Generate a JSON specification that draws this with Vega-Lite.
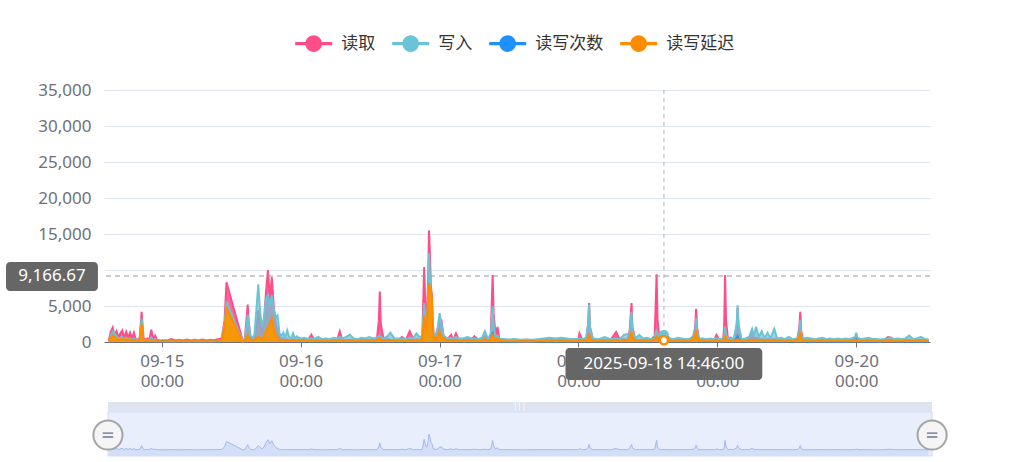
{
"$schema":"https://vega.github.io/schema/vega-lite/v6.json",
"width":826,"height":252,
"autosize":"none",
"padding":{"left":104,"top":90,"right":103,"bottom":120},
"config":{"view":{"stroke":null},"font":"Noto Sans","text":{"font":"Noto Sans"}},
"datasets":{"d":[
{"t":"2025-09-14 14:50","r":200,"w":100,"n":80,"d":100,"g":"a"},
{"t":"2025-09-14 15:10","r":1400,"w":900,"n":300,"d":600,"g":"a"},
{"t":"2025-09-14 15:30","r":2000,"w":1500,"n":400,"d":900,"g":"a"},
{"t":"2025-09-14 15:50","r":900,"w":1200,"n":300,"d":700,"g":"a"},
{"t":"2025-09-14 16:10","r":1500,"w":800,"n":300,"d":500,"g":"a"},
{"t":"2025-09-14 16:30","r":600,"w":500,"n":200,"d":300,"g":"a"},
{"t":"2025-09-14 16:50","r":1200,"w":600,"n":200,"d":400,"g":"a"},
{"t":"2025-09-14 17:10","r":1600,"w":700,"n":300,"d":500,"g":"a"},
{"t":"2025-09-14 17:30","r":500,"w":400,"n":200,"d":300,"g":"a"},
{"t":"2025-09-14 17:50","r":1400,"w":600,"n":200,"d":400,"g":"a"},
{"t":"2025-09-14 18:10","r":600,"w":400,"n":200,"d":300,"g":"a"},
{"t":"2025-09-14 18:30","r":1300,"w":500,"n":200,"d":400,"g":"a"},
{"t":"2025-09-14 18:50","r":500,"w":300,"n":100,"d":200,"g":"a"},
{"t":"2025-09-14 19:10","r":1300,"w":500,"n":200,"d":300,"g":"a"},
{"t":"2025-09-14 19:30","r":300,"w":300,"n":100,"d":200,"g":"a"},
{"t":"2025-09-14 19:50","r":400,"w":300,"n":100,"d":200,"g":"a"},
{"t":"2025-09-14 20:10","r":500,"w":400,"n":100,"d":200,"g":"a"},
{"t":"2025-09-14 20:30","r":4200,"w":3300,"n":1500,"d":2600,"g":"a"},
{"t":"2025-09-14 20:50","r":500,"w":300,"n":200,"d":300,"g":"a"},
{"t":"2025-09-14 21:10","r":300,"w":200,"n":100,"d":150,"g":"a"},
{"t":"2025-09-14 21:30","r":500,"w":300,"n":100,"d":150,"g":"a"},
{"t":"2025-09-14 21:50","r":300,"w":200,"n":100,"d":150,"g":"a"},
{"t":"2025-09-14 22:10","r":1700,"w":600,"n":200,"d":300,"g":"a"},
{"t":"2025-09-14 22:30","r":400,"w":300,"n":100,"d":150,"g":"a"},
{"t":"2025-09-14 22:50","r":900,"w":400,"n":100,"d":200,"g":"a"},
{"t":"2025-09-14 23:10","r":300,"w":200,"n":100,"d":150,"g":"a"},
{"t":"2025-09-14 23:40","r":200,"w":150,"n":100,"d":100,"g":"a"},
{"t":"2025-09-15 00:20","r":250,"w":150,"n":80,"d":120,"g":"a"},
{"t":"2025-09-15 01:00","r":200,"w":150,"n":80,"d":120,"g":"a"},
{"t":"2025-09-15 01:40","r":400,"w":200,"n":80,"d":150,"g":"a"},
{"t":"2025-09-15 02:20","r":200,"w":150,"n":80,"d":120,"g":"a"},
{"t":"2025-09-15 03:00","r":300,"w":200,"n":80,"d":150,"g":"a"},
{"t":"2025-09-15 03:40","r":200,"w":150,"n":80,"d":120,"g":"a"},
{"t":"2025-09-15 04:20","r":350,"w":200,"n":80,"d":150,"g":"a"},
{"t":"2025-09-15 05:00","r":200,"w":150,"n":80,"d":120,"g":"a"},
{"t":"2025-09-15 05:40","r":300,"w":200,"n":80,"d":150,"g":"a"},
{"t":"2025-09-15 06:20","r":200,"w":150,"n":80,"d":120,"g":"a"},
{"t":"2025-09-15 07:00","r":350,"w":200,"n":80,"d":150,"g":"a"},
{"t":"2025-09-15 07:40","r":200,"w":150,"n":80,"d":120,"g":"a"},
{"t":"2025-09-15 08:20","r":300,"w":200,"n":80,"d":150,"g":"a"},
{"t":"2025-09-15 09:00","r":250,"w":150,"n":80,"d":120,"g":"a"},
{"t":"2025-09-15 09:40","r":400,"w":200,"n":100,"d":150,"g":"a"},
{"t":"2025-09-15 10:20","r":500,"w":300,"n":100,"d":200,"g":"a"},
{"t":"2025-09-15 10:50","r":3000,"w":2500,"n":1200,"d":2000,"g":"a"},
{"t":"2025-09-15 11:10","r":8300,"w":5600,"n":2600,"d":4700,"g":"a"},
{"t":"2025-09-15 14:00","r":100,"w":100,"n":50,"d":50,"g":"b"},
{"t":"2025-09-15 14:20","r":400,"w":300,"n":100,"d":200,"g":"b"},
{"t":"2025-09-15 14:40","r":3500,"w":2500,"n":600,"d":800,"g":"b"},
{"t":"2025-09-15 14:50","r":5200,"w":3800,"n":800,"d":1000,"g":"b"},
{"t":"2025-09-15 15:00","r":3000,"w":2500,"n":500,"d":600,"g":"b"},
{"t":"2025-09-15 15:20","r":500,"w":800,"n":200,"d":300,"g":"b"},
{"t":"2025-09-15 15:40","r":300,"w":600,"n":150,"d":200,"g":"b"},
{"t":"2025-09-15 16:00","r":400,"w":1000,"n":200,"d":300,"g":"b"},
{"t":"2025-09-15 16:20","r":2000,"w":4500,"n":400,"d":500,"g":"b"},
{"t":"2025-09-15 16:40","r":4400,"w":8000,"n":600,"d":800,"g":"b"},
{"t":"2025-09-15 17:00","r":2500,"w":4000,"n":500,"d":600,"g":"b"},
{"t":"2025-09-15 17:20","r":1000,"w":2000,"n":300,"d":400,"g":"b"},
{"t":"2025-09-15 17:40","r":3000,"w":3500,"n":600,"d":800,"g":"b"},
{"t":"2025-09-15 18:00","r":7000,"w":6000,"n":1200,"d":1500,"g":"b"},
{"t":"2025-09-15 18:20","r":10000,"w":6500,"n":1800,"d":2000,"g":"b"},
{"t":"2025-09-15 18:40","r":6000,"w":5000,"n":1500,"d":2500,"g":"b"},
{"t":"2025-09-15 19:00","r":9000,"w":6500,"n":2500,"d":3300,"g":"b"},
{"t":"2025-09-15 19:20","r":5000,"w":4500,"n":1500,"d":2000,"g":"b"},
{"t":"2025-09-15 19:40","r":2500,"w":3500,"n":800,"d":1000,"g":"b"},
{"t":"2025-09-15 20:00","r":1500,"w":3700,"n":500,"d":600,"g":"b"},
{"t":"2025-09-15 20:20","r":600,"w":1200,"n":200,"d":300,"g":"b"},
{"t":"2025-09-15 20:40","r":400,"w":800,"n":150,"d":200,"g":"b"},
{"t":"2025-09-15 21:00","r":500,"w":1300,"n":200,"d":300,"g":"b"},
{"t":"2025-09-15 21:20","r":300,"w":600,"n":100,"d":200,"g":"b"},
{"t":"2025-09-15 21:40","r":400,"w":1600,"n":200,"d":300,"g":"b"},
{"t":"2025-09-15 22:00","r":300,"w":700,"n":100,"d":200,"g":"b"},
{"t":"2025-09-15 22:20","r":300,"w":500,"n":100,"d":200,"g":"b"},
{"t":"2025-09-15 22:40","r":400,"w":1200,"n":200,"d":300,"g":"b"},
{"t":"2025-09-15 23:00","r":300,"w":500,"n":100,"d":200,"g":"b"},
{"t":"2025-09-15 23:20","r":300,"w":800,"n":100,"d":200,"g":"b"},
{"t":"2025-09-15 23:40","r":400,"w":600,"n":100,"d":200,"g":"b"},
{"t":"2025-09-16 00:00","r":300,"w":500,"n":100,"d":200,"g":"b"},
{"t":"2025-09-16 00:40","r":400,"w":600,"n":100,"d":200,"g":"b"},
{"t":"2025-09-16 01:20","r":300,"w":400,"n":100,"d":150,"g":"b"},
{"t":"2025-09-16 01:50","r":1000,"w":500,"n":150,"d":250,"g":"b"},
{"t":"2025-09-16 02:20","r":300,"w":400,"n":100,"d":150,"g":"b"},
{"t":"2025-09-16 03:00","r":300,"w":700,"n":100,"d":200,"g":"b"},
{"t":"2025-09-16 03:40","r":200,"w":400,"n":100,"d":150,"g":"b"},
{"t":"2025-09-16 04:20","r":300,"w":500,"n":100,"d":150,"g":"b"},
{"t":"2025-09-16 05:00","r":250,"w":400,"n":100,"d":150,"g":"b"},
{"t":"2025-09-16 05:40","r":300,"w":600,"n":100,"d":200,"g":"b"},
{"t":"2025-09-16 06:20","r":400,"w":500,"n":100,"d":150,"g":"b"},
{"t":"2025-09-16 06:45","r":1500,"w":700,"n":200,"d":300,"g":"b"},
{"t":"2025-09-16 07:10","r":300,"w":500,"n":100,"d":150,"g":"b"},
{"t":"2025-09-16 07:50","r":250,"w":700,"n":100,"d":200,"g":"b"},
{"t":"2025-09-16 08:30","r":300,"w":1000,"n":150,"d":250,"g":"b"},
{"t":"2025-09-16 09:10","r":300,"w":500,"n":100,"d":150,"g":"b"},
{"t":"2025-09-16 09:50","r":200,"w":400,"n":100,"d":150,"g":"b"},
{"t":"2025-09-16 10:30","r":300,"w":600,"n":100,"d":200,"g":"b"},
{"t":"2025-09-16 11:10","r":300,"w":500,"n":100,"d":150,"g":"b"},
{"t":"2025-09-16 11:50","r":250,"w":700,"n":100,"d":200,"g":"b"},
{"t":"2025-09-16 12:30","r":300,"w":500,"n":100,"d":150,"g":"b"},
{"t":"2025-09-16 13:10","r":400,"w":600,"n":100,"d":200,"g":"b"},
{"t":"2025-09-16 13:30","r":3000,"w":800,"n":300,"d":400,"g":"b"},
{"t":"2025-09-16 13:40","r":7000,"w":900,"n":400,"d":500,"g":"b"},
{"t":"2025-09-16 13:50","r":2500,"w":700,"n":300,"d":300,"g":"b"},
{"t":"2025-09-16 14:20","r":300,"w":500,"n":100,"d":150,"g":"b"},
{"t":"2025-09-16 15:00","r":400,"w":800,"n":100,"d":200,"g":"b"},
{"t":"2025-09-16 15:30","r":300,"w":1300,"n":150,"d":250,"g":"b"},
{"t":"2025-09-16 16:10","r":300,"w":500,"n":100,"d":150,"g":"b"},
{"t":"2025-09-16 16:50","r":250,"w":500,"n":100,"d":150,"g":"b"},
{"t":"2025-09-16 17:30","r":700,"w":500,"n":100,"d":200,"g":"b"},
{"t":"2025-09-16 18:10","r":300,"w":400,"n":100,"d":150,"g":"b"},
{"t":"2025-09-16 18:50","r":1500,"w":600,"n":200,"d":300,"g":"b"},
{"t":"2025-09-16 19:30","r":300,"w":600,"n":100,"d":150,"g":"b"},
{"t":"2025-09-16 20:00","r":400,"w":1200,"n":150,"d":250,"g":"b"},
{"t":"2025-09-16 20:30","r":300,"w":700,"n":100,"d":200,"g":"b"},
{"t":"2025-09-16 21:00","r":500,"w":800,"n":300,"d":500,"g":"b"},
{"t":"2025-09-16 21:20","r":10400,"w":5400,"n":2000,"d":3700,"g":"b"},
{"t":"2025-09-16 21:30","r":6000,"w":4000,"n":1500,"d":2500,"g":"b"},
{"t":"2025-09-16 21:40","r":3000,"w":2000,"n":800,"d":1500,"g":"b"},
{"t":"2025-09-16 21:50","r":3500,"w":2500,"n":1500,"d":3000,"g":"b"},
{"t":"2025-09-16 22:00","r":8000,"w":6000,"n":3000,"d":5500,"g":"b"},
{"t":"2025-09-16 22:10","r":15500,"w":12300,"n":5000,"d":8200,"g":"b"},
{"t":"2025-09-16 22:20","r":12000,"w":9000,"n":4000,"d":7500,"g":"b"},
{"t":"2025-09-16 22:30","r":7600,"w":6000,"n":3500,"d":7200,"g":"b"},
{"t":"2025-09-16 22:40","r":6500,"w":5000,"n":3000,"d":6000,"g":"b"},
{"t":"2025-09-16 22:50","r":2500,"w":2000,"n":1000,"d":1500,"g":"b"},
{"t":"2025-09-16 23:00","r":800,"w":700,"n":300,"d":500,"g":"b"},
{"t":"2025-09-16 23:20","r":500,"w":1000,"n":200,"d":400,"g":"b"},
{"t":"2025-09-16 23:40","r":1000,"w":2000,"n":400,"d":800,"g":"b"},
{"t":"2025-09-17 00:00","r":3000,"w":4000,"n":800,"d":1500,"g":"b"},
{"t":"2025-09-17 00:20","r":3000,"w":2500,"n":500,"d":800,"g":"b"},
{"t":"2025-09-17 00:40","r":800,"w":900,"n":300,"d":500,"g":"b"},
{"t":"2025-09-17 01:20","r":400,"w":500,"n":100,"d":200,"g":"b"},
{"t":"2025-09-17 02:00","r":1000,"w":600,"n":200,"d":300,"g":"b"},
{"t":"2025-09-17 02:20","r":300,"w":500,"n":100,"d":150,"g":"b"},
{"t":"2025-09-17 02:50","r":1200,"w":700,"n":200,"d":300,"g":"b"},
{"t":"2025-09-17 03:20","r":300,"w":500,"n":100,"d":150,"g":"b"},
{"t":"2025-09-17 04:00","r":300,"w":500,"n":100,"d":150,"g":"b"},
{"t":"2025-09-17 04:50","r":400,"w":700,"n":100,"d":200,"g":"b"},
{"t":"2025-09-17 05:30","r":300,"w":500,"n":100,"d":150,"g":"b"},
{"t":"2025-09-17 06:00","r":800,"w":500,"n":150,"d":250,"g":"b"},
{"t":"2025-09-17 06:40","r":300,"w":400,"n":100,"d":150,"g":"b"},
{"t":"2025-09-17 07:20","r":400,"w":600,"n":100,"d":200,"g":"b"},
{"t":"2025-09-17 07:50","r":800,"w":1500,"n":300,"d":400,"g":"b"},
{"t":"2025-09-17 08:20","r":300,"w":500,"n":100,"d":150,"g":"b"},
{"t":"2025-09-17 08:50","r":1000,"w":800,"n":200,"d":300,"g":"b"},
{"t":"2025-09-17 09:00","r":5000,"w":3000,"n":1000,"d":800,"g":"b"},
{"t":"2025-09-17 09:10","r":9300,"w":5000,"n":1200,"d":1000,"g":"b"},
{"t":"2025-09-17 09:20","r":4000,"w":2500,"n":600,"d":600,"g":"b"},
{"t":"2025-09-17 09:40","r":1000,"w":600,"n":200,"d":300,"g":"b"},
{"t":"2025-09-17 10:00","r":2100,"w":900,"n":300,"d":500,"g":"b"},
{"t":"2025-09-17 10:20","r":400,"w":500,"n":100,"d":200,"g":"b"},
{"t":"2025-09-17 11:00","r":300,"w":400,"n":100,"d":150,"g":"b"},
{"t":"2025-09-17 12:00","r":250,"w":350,"n":80,"d":150,"g":"b"},
{"t":"2025-09-17 13:00","r":300,"w":400,"n":100,"d":150,"g":"b"},
{"t":"2025-09-17 14:00","r":200,"w":300,"n":80,"d":120,"g":"b"},
{"t":"2025-09-17 15:00","r":300,"w":350,"n":100,"d":150,"g":"b"},
{"t":"2025-09-17 16:00","r":250,"w":300,"n":80,"d":120,"g":"b"},
{"t":"2025-09-17 17:00","r":300,"w":400,"n":100,"d":150,"g":"b"},
{"t":"2025-09-17 18:00","r":300,"w":500,"n":100,"d":150,"g":"b"},
{"t":"2025-09-17 19:00","r":300,"w":600,"n":100,"d":150,"g":"b"},
{"t":"2025-09-17 20:00","r":250,"w":500,"n":80,"d":150,"g":"b"},
{"t":"2025-09-17 21:00","r":300,"w":600,"n":100,"d":150,"g":"b"},
{"t":"2025-09-17 22:00","r":350,"w":500,"n":100,"d":150,"g":"b"},
{"t":"2025-09-17 23:00","r":300,"w":400,"n":100,"d":150,"g":"b"},
{"t":"2025-09-18 00:00","r":300,"w":400,"n":100,"d":150,"g":"b"},
{"t":"2025-09-18 00:10","r":1200,"w":500,"n":200,"d":300,"g":"b"},
{"t":"2025-09-18 00:40","r":300,"w":400,"n":100,"d":150,"g":"b"},
{"t":"2025-09-18 01:20","r":400,"w":600,"n":100,"d":200,"g":"b"},
{"t":"2025-09-18 01:40","r":2500,"w":2500,"n":500,"d":600,"g":"b"},
{"t":"2025-09-18 01:50","r":5400,"w":5200,"n":800,"d":1200,"g":"b"},
{"t":"2025-09-18 02:00","r":2000,"w":2000,"n":400,"d":500,"g":"b"},
{"t":"2025-09-18 02:30","r":300,"w":500,"n":100,"d":150,"g":"b"},
{"t":"2025-09-18 03:30","r":300,"w":400,"n":100,"d":150,"g":"b"},
{"t":"2025-09-18 04:30","r":300,"w":700,"n":100,"d":200,"g":"b"},
{"t":"2025-09-18 05:30","r":250,"w":400,"n":80,"d":150,"g":"b"},
{"t":"2025-09-18 06:30","r":1400,"w":500,"n":200,"d":300,"g":"b"},
{"t":"2025-09-18 07:10","r":300,"w":400,"n":100,"d":150,"g":"b"},
{"t":"2025-09-18 07:50","r":400,"w":1000,"n":150,"d":250,"g":"b"},
{"t":"2025-09-18 08:30","r":300,"w":1100,"n":150,"d":250,"g":"b"},
{"t":"2025-09-18 08:50","r":1500,"w":1200,"n":300,"d":500,"g":"b"},
{"t":"2025-09-18 09:10","r":5400,"w":4200,"n":800,"d":1400,"g":"b"},
{"t":"2025-09-18 09:20","r":2000,"w":1500,"n":400,"d":600,"g":"b"},
{"t":"2025-09-18 09:50","r":300,"w":500,"n":100,"d":150,"g":"b"},
{"t":"2025-09-18 10:30","r":300,"w":1000,"n":150,"d":250,"g":"b"},
{"t":"2025-09-18 11:10","r":300,"w":500,"n":100,"d":150,"g":"b"},
{"t":"2025-09-18 11:50","r":400,"w":600,"n":100,"d":200,"g":"b"},
{"t":"2025-09-18 12:30","r":300,"w":400,"n":100,"d":150,"g":"b"},
{"t":"2025-09-18 13:10","r":800,"w":500,"n":200,"d":300,"g":"b"},
{"t":"2025-09-18 13:20","r":5000,"w":1200,"n":400,"d":600,"g":"b"},
{"t":"2025-09-18 13:30","r":9400,"w":1700,"n":500,"d":800,"g":"b"},
{"t":"2025-09-18 13:40","r":3000,"w":1000,"n":300,"d":400,"g":"b"},
{"t":"2025-09-18 14:00","r":300,"w":1100,"n":150,"d":200,"g":"b"},
{"t":"2025-09-18 14:20","r":300,"w":1200,"n":150,"d":200,"g":"b"},
{"t":"2025-09-18 14:46","r":600,"w":1000,"n":500,"d":250,"g":"b"},
{"t":"2025-09-18 15:10","r":300,"w":900,"n":150,"d":200,"g":"b"},
{"t":"2025-09-18 15:50","r":250,"w":500,"n":100,"d":150,"g":"b"},
{"t":"2025-09-18 16:30","r":300,"w":400,"n":100,"d":150,"g":"b"},
{"t":"2025-09-18 17:10","r":300,"w":600,"n":100,"d":150,"g":"b"},
{"t":"2025-09-18 17:50","r":300,"w":500,"n":100,"d":150,"g":"b"},
{"t":"2025-09-18 18:30","r":350,"w":400,"n":100,"d":150,"g":"b"},
{"t":"2025-09-18 19:10","r":300,"w":400,"n":100,"d":150,"g":"b"},
{"t":"2025-09-18 19:50","r":800,"w":700,"n":300,"d":500,"g":"b"},
{"t":"2025-09-18 20:10","r":2000,"w":1500,"n":500,"d":900,"g":"b"},
{"t":"2025-09-18 20:20","r":4600,"w":3300,"n":900,"d":1700,"g":"b"},
{"t":"2025-09-18 20:30","r":2000,"w":1500,"n":500,"d":800,"g":"b"},
{"t":"2025-09-18 20:50","r":400,"w":500,"n":100,"d":200,"g":"b"},
{"t":"2025-09-18 21:30","r":300,"w":500,"n":100,"d":150,"g":"b"},
{"t":"2025-09-18 22:10","r":300,"w":400,"n":100,"d":150,"g":"b"},
{"t":"2025-09-18 22:50","r":300,"w":500,"n":100,"d":150,"g":"b"},
{"t":"2025-09-18 23:30","r":300,"w":400,"n":100,"d":150,"g":"b"},
{"t":"2025-09-18 23:50","r":1000,"w":500,"n":200,"d":300,"g":"b"},
{"t":"2025-09-19 00:20","r":300,"w":400,"n":100,"d":150,"g":"b"},
{"t":"2025-09-19 01:00","r":400,"w":500,"n":100,"d":200,"g":"b"},
{"t":"2025-09-19 01:10","r":2000,"w":1000,"n":300,"d":500,"g":"b"},
{"t":"2025-09-19 01:20","r":9300,"w":2100,"n":600,"d":1000,"g":"b"},
{"t":"2025-09-19 01:30","r":3000,"w":1000,"n":300,"d":400,"g":"b"},
{"t":"2025-09-19 01:50","r":400,"w":500,"n":100,"d":150,"g":"b"},
{"t":"2025-09-19 02:20","r":600,"w":500,"n":100,"d":200,"g":"b"},
{"t":"2025-09-19 02:50","r":300,"w":400,"n":100,"d":150,"g":"b"},
{"t":"2025-09-19 03:20","r":2000,"w":2500,"n":500,"d":300,"g":"b"},
{"t":"2025-09-19 03:30","r":4700,"w":5100,"n":800,"d":400,"g":"b"},
{"t":"2025-09-19 03:40","r":2000,"w":2500,"n":400,"d":300,"g":"b"},
{"t":"2025-09-19 04:10","r":300,"w":400,"n":100,"d":150,"g":"b"},
{"t":"2025-09-19 04:50","r":300,"w":500,"n":100,"d":150,"g":"b"},
{"t":"2025-09-19 05:30","r":400,"w":700,"n":100,"d":200,"g":"b"},
{"t":"2025-09-19 06:00","r":1600,"w":1800,"n":300,"d":300,"g":"b"},
{"t":"2025-09-19 06:20","r":500,"w":800,"n":100,"d":200,"g":"b"},
{"t":"2025-09-19 06:40","r":600,"w":2100,"n":200,"d":300,"g":"b"},
{"t":"2025-09-19 07:10","r":400,"w":700,"n":100,"d":200,"g":"b"},
{"t":"2025-09-19 07:40","r":400,"w":1500,"n":100,"d":200,"g":"b"},
{"t":"2025-09-19 08:10","r":300,"w":500,"n":100,"d":150,"g":"b"},
{"t":"2025-09-19 08:40","r":400,"w":1300,"n":100,"d":200,"g":"b"},
{"t":"2025-09-19 09:10","r":300,"w":500,"n":100,"d":150,"g":"b"},
{"t":"2025-09-19 09:50","r":400,"w":1800,"n":150,"d":250,"g":"b"},
{"t":"2025-09-19 10:20","r":300,"w":500,"n":100,"d":150,"g":"b"},
{"t":"2025-09-19 11:00","r":250,"w":600,"n":80,"d":150,"g":"b"},
{"t":"2025-09-19 11:40","r":300,"w":400,"n":100,"d":150,"g":"b"},
{"t":"2025-09-19 12:20","r":300,"w":700,"n":100,"d":150,"g":"b"},
{"t":"2025-09-19 13:00","r":250,"w":400,"n":80,"d":150,"g":"b"},
{"t":"2025-09-19 13:50","r":500,"w":500,"n":200,"d":300,"g":"b"},
{"t":"2025-09-19 14:10","r":2000,"w":1500,"n":500,"d":800,"g":"b"},
{"t":"2025-09-19 14:20","r":4200,"w":3000,"n":800,"d":1400,"g":"b"},
{"t":"2025-09-19 14:30","r":1500,"w":1000,"n":300,"d":500,"g":"b"},
{"t":"2025-09-19 14:50","r":300,"w":500,"n":100,"d":150,"g":"b"},
{"t":"2025-09-19 15:30","r":250,"w":600,"n":80,"d":150,"g":"b"},
{"t":"2025-09-19 16:10","r":300,"w":500,"n":100,"d":150,"g":"b"},
{"t":"2025-09-19 16:50","r":250,"w":400,"n":80,"d":150,"g":"b"},
{"t":"2025-09-19 17:30","r":300,"w":500,"n":100,"d":150,"g":"b"},
{"t":"2025-09-19 18:10","r":300,"w":600,"n":100,"d":150,"g":"b"},
{"t":"2025-09-19 18:50","r":250,"w":400,"n":80,"d":150,"g":"b"},
{"t":"2025-09-19 19:30","r":300,"w":500,"n":100,"d":150,"g":"b"},
{"t":"2025-09-19 20:10","r":250,"w":400,"n":80,"d":150,"g":"b"},
{"t":"2025-09-19 20:50","r":300,"w":500,"n":100,"d":150,"g":"b"},
{"t":"2025-09-19 21:30","r":250,"w":400,"n":80,"d":150,"g":"b"},
{"t":"2025-09-19 22:10","r":300,"w":500,"n":100,"d":150,"g":"b"},
{"t":"2025-09-19 22:50","r":250,"w":400,"n":80,"d":150,"g":"b"},
{"t":"2025-09-19 23:30","r":300,"w":600,"n":100,"d":150,"g":"b"},
{"t":"2025-09-19 23:50","r":500,"w":700,"n":300,"d":300,"g":"b"},
{"t":"2025-09-20 00:00","r":1100,"w":1300,"n":400,"d":300,"g":"b"},
{"t":"2025-09-20 00:10","r":400,"w":600,"n":100,"d":150,"g":"b"},
{"t":"2025-09-20 00:50","r":300,"w":400,"n":100,"d":150,"g":"b"},
{"t":"2025-09-20 01:30","r":250,"w":500,"n":80,"d":150,"g":"b"},
{"t":"2025-09-20 02:10","r":300,"w":600,"n":100,"d":150,"g":"b"},
{"t":"2025-09-20 02:50","r":250,"w":400,"n":80,"d":150,"g":"b"},
{"t":"2025-09-20 03:30","r":300,"w":400,"n":100,"d":150,"g":"b"},
{"t":"2025-09-20 04:10","r":250,"w":350,"n":80,"d":120,"g":"b"},
{"t":"2025-09-20 04:50","r":300,"w":400,"n":100,"d":150,"g":"b"},
{"t":"2025-09-20 05:30","r":700,"w":500,"n":200,"d":200,"g":"b"},
{"t":"2025-09-20 06:00","r":600,"w":600,"n":200,"d":300,"g":"b"},
{"t":"2025-09-20 06:30","r":300,"w":400,"n":100,"d":150,"g":"b"},
{"t":"2025-09-20 07:10","r":300,"w":500,"n":100,"d":150,"g":"b"},
{"t":"2025-09-20 07:50","r":250,"w":400,"n":80,"d":150,"g":"b"},
{"t":"2025-09-20 08:30","r":300,"w":500,"n":100,"d":150,"g":"b"},
{"t":"2025-09-20 09:10","r":300,"w":900,"n":100,"d":200,"g":"b"},
{"t":"2025-09-20 09:50","r":250,"w":400,"n":80,"d":150,"g":"b"},
{"t":"2025-09-20 10:30","r":300,"w":500,"n":100,"d":150,"g":"b"},
{"t":"2025-09-20 11:10","r":250,"w":700,"n":80,"d":150,"g":"b"},
{"t":"2025-09-20 11:50","r":300,"w":400,"n":100,"d":150,"g":"b"},
{"t":"2025-09-20 12:30","r":250,"w":350,"n":80,"d":120,"g":"b"}
]},
"data":{"name":"d"},
"layer":[
{"mark":{"type":"area","color":"#ff4d88","opacity":0.85},"encoding":{
  "x":{"field":"t","type":"temporal","title":null,
   "scale":{"domain":[{"year":2025,"month":9,"date":14,"hours":14,"minutes":0},{"year":2025,"month":9,"date":20,"hours":12,"minutes":45}],"nice":false},
   "axis":{"values":[{"year":2025,"month":9,"date":15},{"year":2025,"month":9,"date":16},{"year":2025,"month":9,"date":17},{"year":2025,"month":9,"date":18},{"year":2025,"month":9,"date":19},{"year":2025,"month":9,"date":20}],
    "labelExpr":"[timeFormat(datum.value,'%m-%d'), timeFormat(datum.value,'%H:%M')]",
    "grid":false,"domainColor":"#6e7079","tickColor":"#6e7079","tickSize":5,"labelColor":"#6e7079","labelFontSize":17,"labelPadding":6,"labelLineHeight":20,"labelFont":"Noto Sans","labelFlush":false,"labelOverlap":false}},
  "y":{"field":"r","type":"quantitative","title":null,"scale":{"domain":[0,35000],"nice":false},
   "axis":{"values":[0,5000,10000,15000,20000,25000,30000,35000],"format":",.0f","domain":false,"ticks":false,"grid":true,"gridColor":"#e0e6f1","labelColor":"#6e7079","labelFontSize":17,"labelPadding":13,"labelFont":"Noto Sans"}},
  "detail":{"field":"g"}}},
{"mark":{"type":"line","strokeWidth":2},"encoding":{"x":{"field":"t","type":"temporal","title":null},"y":{"field":"r","type":"quantitative","title":null,"scale":{"domain":[0,35000],"nice":false},"axis":null},
  "color":{"datum":"读取","type":"nominal","scale":{"domain":["读取","写入","读写次数","读写延迟"],"range":["#ff4d88","#6cc3d5","#1e90ff","#ff8c00"]},
   "legend":{"orient":"none","legendX":191,"legendY":-55,"direction":"horizontal","title":null,
    "symbolType":"M-2.23,-0.2H2.23V0.2H-2.23Z M1,0A1,1 0 1,1 -1,0A1,1 0 1,1 1,0Z","symbolSize":276,"symbolOffset":10.2,"labelOffset":19,
    "labelFontSize":17,"labelColor":"#333333","labelFont":"Noto Sans CJK SC","columnPadding":16,
    "encode":{"symbols":{"update":{"fill":{"scale":"color","field":"value"},"stroke":{"value":"transparent"},"strokeWidth":{"value":0},"opacity":{"value":1}}}}}}}},
{"mark":{"type":"area","color":"#6cc3d5","opacity":0.7},"encoding":{"x":{"field":"t","type":"temporal","title":null},"y":{"field":"w","type":"quantitative","title":null,"scale":{"domain":[0,35000],"nice":false},"axis":null},"detail":{"field":"g"}}},
{"mark":{"type":"line","strokeWidth":2},"encoding":{"x":{"field":"t","type":"temporal","title":null},"y":{"field":"w","type":"quantitative","title":null,"scale":{"domain":[0,35000],"nice":false},"axis":null},"color":{"datum":"写入","type":"nominal"}}},
{"mark":{"type":"area","color":"#1e90ff","opacity":0.7},"encoding":{"x":{"field":"t","type":"temporal","title":null},"y":{"field":"n","type":"quantitative","title":null,"scale":{"domain":[0,35000],"nice":false},"axis":null},"detail":{"field":"g"}}},
{"mark":{"type":"line","strokeWidth":2},"encoding":{"x":{"field":"t","type":"temporal","title":null},"y":{"field":"n","type":"quantitative","title":null,"scale":{"domain":[0,35000],"nice":false},"axis":null},"color":{"datum":"读写次数","type":"nominal"}}},
{"mark":{"type":"area","color":"#ff9800","opacity":0.95},"encoding":{"x":{"field":"t","type":"temporal","title":null},"y":{"field":"d","type":"quantitative","title":null,"scale":{"domain":[0,35000],"nice":false},"axis":null},"detail":{"field":"g"}}},
{"mark":{"type":"line","strokeWidth":2},"encoding":{"x":{"field":"t","type":"temporal","title":null},"y":{"field":"d","type":"quantitative","title":null,"scale":{"domain":[0,35000],"nice":false},"axis":null},"color":{"datum":"读写延迟","type":"nominal"}}},
{"data":{"values":[{}]},"mark":{"type":"rule","color":"#b4b4b4","strokeDash":[4,4],"strokeWidth":1},"encoding":{"x":{"datum":{"year":2025,"month":9,"date":18,"hours":14,"minutes":46},"type":"temporal","title":null}}},
{"data":{"values":[{}]},"mark":{"type":"rule","color":"#999999","strokeDash":[5,4],"strokeWidth":1},"encoding":{"y":{"datum":9166.67,"type":"quantitative","title":null,"scale":{"domain":[0,35000],"nice":false},"axis":null}}},
{"transform":[{"filter":"date(datum.t)==18 && hours(datum.t)==14 && minutes(datum.t)==46"}],"mark":{"type":"point","filled":true,"fill":"#ffffff","stroke":"#1e90ff","strokeWidth":2,"size":50,"opacity":1},"encoding":{"x":{"field":"t","type":"temporal","title":null},"y":{"field":"n","type":"quantitative","title":null,"scale":{"domain":[0,35000],"nice":false},"axis":null}}},
{"transform":[{"filter":"date(datum.t)==18 && hours(datum.t)==14 && minutes(datum.t)==46"}],"mark":{"type":"point","filled":true,"fill":"#ffffff","stroke":"#ff4d88","strokeWidth":2,"size":50,"opacity":1},"encoding":{"x":{"field":"t","type":"temporal","title":null},"y":{"field":"r","type":"quantitative","title":null,"scale":{"domain":[0,35000],"nice":false},"axis":null}}},
{"transform":[{"filter":"date(datum.t)==18 && hours(datum.t)==14 && minutes(datum.t)==46"}],"mark":{"type":"point","filled":true,"fill":"#6cc3d5","stroke":"#6cc3d5","strokeWidth":2,"size":60,"opacity":1},"encoding":{"x":{"field":"t","type":"temporal","title":null},"y":{"field":"w","type":"quantitative","title":null,"scale":{"domain":[0,35000],"nice":false},"axis":null}}},
{"transform":[{"filter":"date(datum.t)==18 && hours(datum.t)==14 && minutes(datum.t)==46"}],"mark":{"type":"point","filled":true,"fill":"#ffffff","stroke":"#ff8c00","strokeWidth":2.5,"size":70,"opacity":1},"encoding":{"x":{"field":"t","type":"temporal","title":null},"y":{"field":"d","type":"quantitative","title":null,"scale":{"domain":[0,35000],"nice":false},"axis":null}}},
{"data":{"values":[{}]},"mark":{"type":"rect","color":"#666666","cornerRadius":4},"encoding":{"x":{"datum":{"year":2025,"month":9,"date":13,"hours":21,"minutes":4},"type":"temporal","title":null},"x2":{"datum":{"year":2025,"month":9,"date":14,"hours":12,"minutes":57}},"y":{"datum":11111,"type":"quantitative","title":null,"scale":{"domain":[0,35000],"nice":false},"axis":null},"y2":{"datum":7083}}},
{"data":{"values":[{}]},"mark":{"type":"text","color":"#ffffff","fontSize":17,"align":"center","baseline":"middle","font":"Noto Sans"},"encoding":{"x":{"datum":{"year":2025,"month":9,"date":14,"hours":5,"minutes":0},"type":"temporal","title":null},"y":{"datum":9166.67,"type":"quantitative","title":null,"scale":{"domain":[0,35000],"nice":false},"axis":null},"text":{"value":"9,166.67"}}},
{"data":{"values":[{}]},"mark":{"type":"rect","color":"#666666","cornerRadius":4},"encoding":{"x":{"datum":{"year":2025,"month":9,"date":17,"hours":21,"minutes":45},"type":"temporal","title":null},"x2":{"datum":{"year":2025,"month":9,"date":19,"hours":7,"minutes":46}},"y":{"datum":-833,"type":"quantitative","title":null,"scale":{"domain":[0,35000],"nice":false},"axis":null},"y2":{"datum":-5278}}},
{"data":{"values":[{}]},"mark":{"type":"text","color":"#ffffff","fontSize":17,"align":"center","baseline":"middle","font":"Noto Sans"},"encoding":{"x":{"datum":{"year":2025,"month":9,"date":18,"hours":14,"minutes":46},"type":"temporal","title":null},"y":{"datum":-3056,"type":"quantitative","title":null,"scale":{"domain":[0,35000],"nice":false},"axis":null},"text":{"value":"2025-09-18 14:46:00"}}},
{"data":{"values":[{}]},"mark":{"type":"rect","fill":"#e8eefc","stroke":"#d3dcef","strokeWidth":1},"encoding":{"x":{"datum":{"year":2025,"month":9,"date":14,"hours":14,"minutes":41},"type":"temporal","title":null},"x2":{"datum":{"year":2025,"month":9,"date":20,"hours":13,"minutes":7}},"y":{"datum":36800,"type":"quantitative","scale":{"domain":[-5800,46500],"range":[366,312],"nice":false,"zero":false},"axis":null},"y2":{"datum":-5800}}},
{"data":{"values":[{}]},"mark":{"type":"rect","fill":"#dde3f0"},"encoding":{"x":{"datum":{"year":2025,"month":9,"date":14,"hours":14,"minutes":41},"type":"temporal","title":null},"x2":{"datum":{"year":2025,"month":9,"date":20,"hours":13,"minutes":7}},"y":{"datum":46500,"type":"quantitative","scale":{"domain":[-5800,46500],"range":[366,312],"nice":false,"zero":false},"axis":null},"y2":{"datum":36800}}},
{"mark":{"type":"area","color":"#d3def8","opacity":1,"line":{"color":"#a3b9ef","strokeWidth":1}},"encoding":{"x":{"field":"t","type":"temporal","title":null},"y":{"field":"r","type":"quantitative","title":null,"scale":{"domain":[-5800,46500],"range":[366,312],"nice":false,"zero":false},"axis":null},"y2":{"datum":-5800}}},
{"data":{"values":[{}]},"mark":{"type":"text","text":"|||","color":"#ffffff","fontSize":8,"align":"center","baseline":"middle"},"encoding":{"x":{"datum":{"year":2025,"month":9,"date":17,"hours":13,"minutes":49},"type":"temporal","title":null},"y":{"datum":41600,"type":"quantitative","scale":{"domain":[-5800,46500],"range":[366,312],"nice":false,"zero":false},"axis":null}}},
{"data":{"values":[{}]},"mark":{"type":"point","shape":"circle","filled":true,"fill":"#f5f5f5","stroke":"#a5a5a5","strokeWidth":2,"size":850,"opacity":1},"encoding":{"x":{"datum":{"year":2025,"month":9,"date":14,"hours":14,"minutes":41},"type":"temporal","title":null},"y":{"datum":14500,"type":"quantitative","scale":{"domain":[-5800,46500],"range":[366,312],"nice":false,"zero":false},"axis":null}}},
{"data":{"values":[{}]},"mark":{"type":"point","shape":"circle","filled":true,"fill":"#f5f5f5","stroke":"#a5a5a5","strokeWidth":2,"size":850,"opacity":1},"encoding":{"x":{"datum":{"year":2025,"month":9,"date":20,"hours":13,"minutes":7},"type":"temporal","title":null},"y":{"datum":14500,"type":"quantitative","scale":{"domain":[-5800,46500],"range":[366,312],"nice":false,"zero":false},"axis":null}}},
{"data":{"values":[{}]},"mark":{"type":"point","shape":"M-1,-0.55H1V-0.2H-1Z M-1,0.2H1V0.55H-1Z","filled":true,"fill":"#8a94a8","strokeWidth":0,"size":110,"opacity":1},"encoding":{"x":{"datum":{"year":2025,"month":9,"date":14,"hours":14,"minutes":41},"type":"temporal","title":null},"y":{"datum":14500,"type":"quantitative","scale":{"domain":[-5800,46500],"range":[366,312],"nice":false,"zero":false},"axis":null}}},
{"data":{"values":[{}]},"mark":{"type":"point","shape":"M-1,-0.55H1V-0.2H-1Z M-1,0.2H1V0.55H-1Z","filled":true,"fill":"#8a94a8","strokeWidth":0,"size":110,"opacity":1},"encoding":{"x":{"datum":{"year":2025,"month":9,"date":20,"hours":13,"minutes":7},"type":"temporal","title":null},"y":{"datum":14500,"type":"quantitative","scale":{"domain":[-5800,46500],"range":[366,312],"nice":false,"zero":false},"axis":null}}}
],
"resolve":{"scale":{"y":"independent"}}
}
